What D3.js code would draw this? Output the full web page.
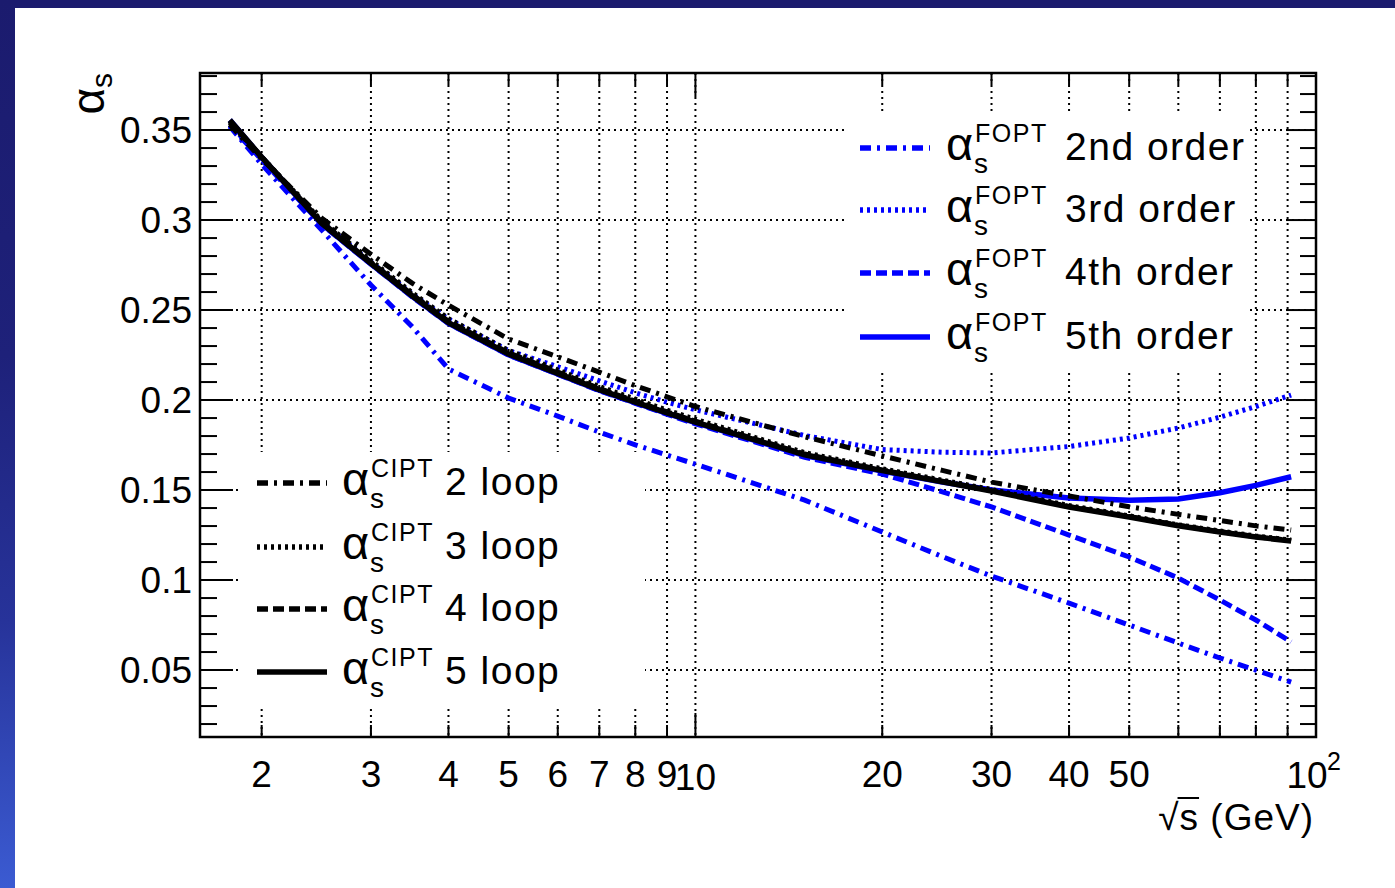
<!DOCTYPE html>
<html>
<head>
<meta charset="utf-8">
<script src="https://cdnjs.cloudflare.com/ajax/libs/d3/7.8.5/d3.min.js"></script>
<style>
body { margin: 0; background: #fff; }
svg text { font-family: "Liberation Sans", Arial, Helvetica, sans-serif; fill: #000; }
</style>
</head>
<body>
<div id="chart"></div>
<script>
// sqrt(s) sampling points (GeV), from m_tau up to M_Z
var energies = [1.777, 2, 2.5, 3, 3.5, 4, 5, 6, 7, 8, 9, 10, 15, 20, 25, 30, 40, 50, 60, 70, 80, 91.19];

// FOPT curves (blue)
var fopt2 = [0.3520, 0.3310, 0.2944, 0.2639, 0.2406, 0.2172, 0.2011, 0.1911, 0.1822, 0.1751, 0.1694, 0.1644, 0.1444, 0.1267, 0.1130, 0.1022, 0.0872, 0.0750, 0.0650, 0.0567, 0.0500, 0.0433];
var fopt3 = [0.3530, 0.3344, 0.2989, 0.2767, 0.2588, 0.2450, 0.2275, 0.2185, 0.2107, 0.2040, 0.1988, 0.1946, 0.1803, 0.1725, 0.1710, 0.1706, 0.1742, 0.1789, 0.1845, 0.1905, 0.1964, 0.2028];
var fopt4 = [0.3525, 0.3335, 0.2975, 0.2755, 0.2572, 0.2425, 0.2250, 0.2143, 0.2052, 0.1982, 0.1921, 0.1868, 0.1682, 0.1589, 0.1490, 0.1406, 0.1250, 0.1128, 0.1011, 0.0889, 0.0778, 0.0656];
var fopt5 = [0.3555, 0.3348, 0.2978, 0.2756, 0.2575, 0.2427, 0.2252, 0.2145, 0.2055, 0.1985, 0.1926, 0.1875, 0.1692, 0.1605, 0.1545, 0.1500, 0.1456, 0.1444, 0.1450, 0.1485, 0.1526, 0.1574];

// CIPT curves (black)
var cipt2 = [0.3530, 0.3340, 0.3010, 0.2810, 0.2648, 0.2527, 0.2339, 0.2240, 0.2155, 0.2080, 0.2018, 0.1964, 0.1796, 0.1690, 0.1609, 0.1544, 0.1467, 0.1407, 0.1365, 0.1331, 0.1301, 0.1278];
var cipt3 = [0.3540, 0.3350, 0.2995, 0.2775, 0.2595, 0.2452, 0.2275, 0.2167, 0.2075, 0.2005, 0.1944, 0.1893, 0.1708, 0.1618, 0.1555, 0.1503, 0.1414, 0.1357, 0.1307, 0.1273, 0.1245, 0.1222];
var cipt4 = [0.3548, 0.3350, 0.2988, 0.2766, 0.2585, 0.2438, 0.2263, 0.2156, 0.2064, 0.1994, 0.1934, 0.1883, 0.1700, 0.1611, 0.1549, 0.1497, 0.1409, 0.1353, 0.1304, 0.1269, 0.1241, 0.1219];
var cipt5 = [0.3555, 0.3350, 0.2981, 0.2759, 0.2578, 0.2430, 0.2256, 0.2148, 0.2058, 0.1988, 0.1929, 0.1878, 0.1696, 0.1608, 0.1546, 0.1494, 0.1406, 0.1350, 0.1302, 0.1267, 0.1239, 0.1217];

// legend texts
var foptLabels = ["2nd order", "3rd order", "4th order", "5th order"];
var ciptLabels = ["2 loop", "3 loop", "4 loop", "5 loop"];

// axis ticks
var xGridTicks = [2, 3, 4, 5, 6, 7, 8, 9, 10, 20, 30, 40, 50, 60, 70, 80, 90];
var xLabelTicks = [2, 3, 4, 5, 6, 7, 8, 9, 10, 20, 30, 40, 50];
var yMajorTicks = [0.05, 0.1, 0.15, 0.2, 0.25, 0.3, 0.35];
var yLabels = ["0.05", "0.1", "0.15", "0.2", "0.25", "0.3", "0.35"];

///////////////////////////////////////////////////////////////////////////
////////////////////////// svg and scales /////////////////////////////////
///////////////////////////////////////////////////////////////////////////

var width = 1395, height = 888;
var frame = {left: 200, right: 1316, top: 73, bottom: 737};

var x = d3.scaleLog().domain([1.591, 100]).range([frame.left, frame.right]);
var y = d3.scaleLinear().domain([0.0128, 0.3817]).range([frame.bottom, frame.top]);

var svg = d3.select("#chart").append("svg")
	.attr("width", width)
	.attr("height", height);

//slide style border: navy strip on top, gradient strip on the left
var grad = svg.append("defs").append("linearGradient")
	.attr("id", "sideGrad")
	.attr("x1", 0).attr("y1", 0).attr("x2", 0).attr("y2", 1);
grad.append("stop").attr("offset", 0).attr("stop-color", "#1b1b6e");
grad.append("stop").attr("offset", 0.4).attr("stop-color", "#1e217a");
grad.append("stop").attr("offset", 0.7).attr("stop-color", "#27339a");
grad.append("stop").attr("offset", 1).attr("stop-color", "#3b5bd2");

svg.append("rect").attr("width", width).attr("height", height).attr("fill", "#fff");
svg.append("rect").attr("x", 0).attr("y", 0).attr("width", width).attr("height", 8).attr("fill", "#1b1b6e");
svg.append("rect").attr("x", 0).attr("y", 0).attr("width", 15).attr("height", height).attr("fill", "url(#sideGrad)");

///////////////////////////////////////////////////////////////////////////
////////////////////////////// grid ///////////////////////////////////////
///////////////////////////////////////////////////////////////////////////

var grid = svg.append("g")
	.attr("stroke", "#000")
	.attr("stroke-width", 2)
	.attr("stroke-dasharray", "2,4");

grid.selectAll(".vgrid")
	.data(xGridTicks)
	.enter().append("line")
	.attr("x1", function(d) { return x(d); })
	.attr("x2", function(d) { return x(d); })
	.attr("y1", frame.top)
	.attr("y2", frame.bottom);

grid.selectAll(".hgrid")
	.data(yMajorTicks)
	.enter().append("line")
	.attr("x1", frame.left)
	.attr("x2", frame.right)
	.attr("y1", function(d) { return y(d); })
	.attr("y2", function(d) { return y(d); });

///////////////////////////////////////////////////////////////////////////
////////////////////////////// curves /////////////////////////////////////
///////////////////////////////////////////////////////////////////////////

var dashes = ["11,6,3,6", "3,4", "11,5", null];

var line = d3.line()
	.x(function(d) { return x(d[0]); })
	.y(function(d) { return y(d[1]); });

function pairs(vals) {
	return energies.map(function(e, i) { return [e, vals[i]]; });
}

var series = [
	{vals: fopt2, color: "#0000ff", dash: dashes[0]},
	{vals: fopt3, color: "#0000ff", dash: dashes[1]},
	{vals: fopt4, color: "#0000ff", dash: dashes[2]},
	{vals: fopt5, color: "#0000ff", dash: dashes[3]},
	{vals: cipt2, color: "#000", dash: dashes[0]},
	{vals: cipt3, color: "#000", dash: dashes[1]},
	{vals: cipt4, color: "#000", dash: dashes[2]},
	{vals: cipt5, color: "#000", dash: dashes[3]}
];

svg.append("g").selectAll(".curve")
	.data(series)
	.enter().append("path")
	.attr("class", "curve")
	.attr("d", function(d) { return line(pairs(d.vals)); })
	.attr("fill", "none")
	.attr("stroke", function(d) { return d.color; })
	.attr("stroke-width", function(d) { return d.dash ? 5 : 5.5; })
	.attr("stroke-dasharray", function(d) { return d.dash; });

///////////////////////////////////////////////////////////////////////////
////////////////////////////// legends ////////////////////////////////////
///////////////////////////////////////////////////////////////////////////

function legend(box, labels, sup, color, lineX, alphaX, textX, rowY) {
	var g = svg.append("g");
	g.append("rect")
		.attr("x", box[0]).attr("y", box[1])
		.attr("width", box[2] - box[0]).attr("height", box[3] - box[1])
		.attr("fill", "#fff");

	labels.forEach(function(lab, i) {
		var ly = rowY[i];
		g.append("line")
			.attr("x1", lineX[0]).attr("x2", lineX[1])
			.attr("y1", ly).attr("y2", ly)
			.attr("stroke", color)
			.attr("stroke-width", 5.5)
			.attr("stroke-dasharray", dashes[i]);

		var base = ly + 12;
		g.append("text").attr("x", alphaX - 1).attr("y", base)
			.style("font-size", "47px").text("\u03b1");
		g.append("text").attr("x", alphaX + 28).attr("y", base - 18)
			.style("font-size", "25px").style("letter-spacing", "1.5px").text(sup);
		g.append("text").attr("x", alphaX + 27).attr("y", base + 13)
			.style("font-size", "28px").text("s");
		g.append("text").attr("x", textX).attr("y", base)
			.style("font-size", "39px").style("letter-spacing", "1.5px").text(lab);
	});
}

legend([847, 112, 1250, 372], foptLabels, "FOPT", "#0000ff", [860, 930], 947, 1065, [148, 210, 273, 337]);
legend([240, 452, 645, 705], ciptLabels, "CIPT", "#000", [257, 327], 343, 445, [483, 547, 609, 672]);

///////////////////////////////////////////////////////////////////////////
////////////////////////////// axes ///////////////////////////////////////
///////////////////////////////////////////////////////////////////////////

var axes = svg.append("g").attr("stroke", "#000").attr("stroke-width", 2);

var yMinorTicks = d3.range(0.02, 0.385, 0.01).filter(function(v) {
	return Math.abs(v * 20 - Math.round(v * 20)) > 1e-6;
});

//left and right ticks
[[frame.left, 1, 33, 17], [frame.right, -1, 30, 16]].forEach(function(s) {
	axes.selectAll(null).data(yMajorTicks).enter().append("line")
		.attr("x1", s[0]).attr("x2", s[0] + s[1] * s[2])
		.attr("y1", function(d) { return y(d); }).attr("y2", function(d) { return y(d); });
	axes.selectAll(null).data(yMinorTicks).enter().append("line")
		.attr("x1", s[0]).attr("x2", s[0] + s[1] * s[3])
		.attr("y1", function(d) { return y(d); }).attr("y2", function(d) { return y(d); });
});

//bottom and top ticks
[[frame.bottom, -1], [frame.top, 1]].forEach(function(s) {
	axes.selectAll(null).data(xGridTicks).enter().append("line")
		.attr("x1", function(d) { return x(d); }).attr("x2", function(d) { return x(d); })
		.attr("y1", s[0])
		.attr("y2", function(d) { return s[0] + s[1] * (d === 10 ? 24 : 12); });
});

svg.append("rect")
	.attr("x", frame.left).attr("y", frame.top)
	.attr("width", frame.right - frame.left).attr("height", frame.bottom - frame.top)
	.attr("fill", "none").attr("stroke", "#000").attr("stroke-width", 2.5);

//y labels
svg.selectAll(".ylab")
	.data(yMajorTicks)
	.enter().append("text")
	.attr("x", 192)
	.attr("y", function(d) { return y(d) + 13; })
	.attr("text-anchor", "end")
	.style("font-size", "37px")
	.text(function(d, i) { return yLabels[i]; });

//x labels
svg.selectAll(".xlab")
	.data(xLabelTicks)
	.enter().append("text")
	.attr("x", function(d) { return x(d); })
	.attr("y", function(d) { return d === 10 ? 790 : 787; })
	.attr("text-anchor", "middle")
	.style("font-size", "37px")
	.text(function(d) { return d; });

svg.append("text")
	.attr("x", x(100) - 9)
	.attr("y", 788)
	.attr("text-anchor", "middle")
	.style("font-size", "37px")
	.text("10");
svg.append("text")
	.attr("x", x(100) + 11)
	.attr("y", 770)
	.style("font-size", "25px")
	.text("2");

//axis titles
var xt = svg.append("text")
	.attr("x", 1314)
	.attr("y", 830)
	.attr("text-anchor", "end")
	.style("font-size", "37px")
	.style("letter-spacing", "1px")
	.text("\u221as (GeV)");
var sStart = xt.node().getStartPositionOfChar(1).x;
var sEnd = xt.node().getEndPositionOfChar(1).x;
svg.append("line")
	.attr("x1", sStart - 2).attr("x2", sEnd)
	.attr("y1", 798).attr("y2", 798)
	.attr("stroke", "#000").attr("stroke-width", 2);

var yt = svg.append("text")
	.attr("transform", "translate(104," + frame.top + ") rotate(-90)")
	.attr("text-anchor", "end");
yt.append("tspan").style("font-size", "46px").text("\u03b1");
yt.append("tspan").style("font-size", "30px").attr("dy", 8).text("s");
</script>
</body>
</html>
